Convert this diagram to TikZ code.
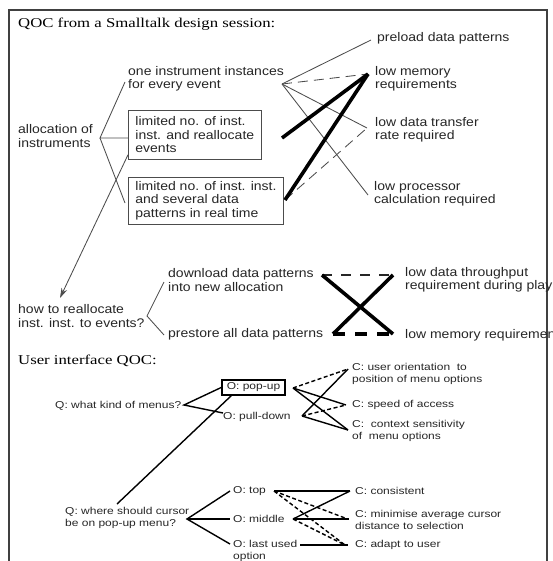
\documentclass[tikz,border=0pt]{standalone}
\usepackage{fontspec}
\setmainfont{Liberation Serif}
\newfontfamily\hvA[FakeStretch=1.12]{Liberation Sans}
\newfontfamily\hvB[FakeStretch=1.2]{Liberation Sans}
\newfontfamily\tmA[FakeStretch=1.24]{Liberation Serif}
\usetikzlibrary{arrows.meta}
\begin{document}
\begin{tikzpicture}[x=1pt,y=-1pt,
  lbl/.style={anchor=west,inner sep=0pt,align=left,font=\hvA\fontsize{12.5}{13.5}\selectfont,text=black!85},
  sml/.style={anchor=west,inner sep=0pt,align=left,font=\hvB\fontsize{10}{12}\selectfont,text=black!85},
  ttl/.style={anchor=west,inner sep=0pt,font=\tmA\fontsize{13.5}{15}\selectfont},
  boxed/.style={lbl,draw=black!70,line width=0.8pt,inner xsep=7pt,inner ysep=4pt,anchor=north west},
  popbox/.style={sml,draw=black,line width=1.6pt,anchor=center,align=center,minimum width=63pt,minimum height=15pt,inner xsep=2pt},
  thinln/.style={draw=black!70,line width=0.85pt},
  thickln/.style={draw=black,line width=3.6pt},
  dsh/.style={dash pattern=on 10pt off 6pt},
  uiln/.style={draw=black,line width=1.4pt},
  uidsh/.style={draw=black,line width=1.4pt,dash pattern=on 4pt off 2.5pt}
]
\useasboundingbox (0,0) rectangle (552,561);
\clip (0,0) rectangle (552,561);
\draw[line width=1.5pt,black!75] (9,10) rectangle (547,580);

% ---------- section 1
\node[ttl] (t1) at (18,24) {QOC from a Smalltalk design session:};
\node[lbl] (one) at (128,79) {one instrument instances\\for every event};
\node[lbl] (alloc) at (18,136) {allocation of\\instruments};
\node[boxed,minimum height=49pt] (box1) at (128,110) {limited no. of inst.\\inst. and reallocate\\events};
\node[boxed,minimum height=44pt] (box2) at (128,177) {limited no. of inst. inst.\\and several data\\patterns in real time};
\node[lbl] (pre) at (377,38) {preload data patterns};
\node[lbl] (lmem) at (375,79) {low memory\\requirements};
\node[lbl] (ldt) at (375,130) {low data transfer\\rate required};
\node[lbl] (lpc) at (374,194) {low processor\\calculation required};

\coordinate (aB) at (100,138);
\coordinate (oneL) at (125,82);
\coordinate (b2L) at (125,203);
\coordinate (oneR) at (282,84);
\coordinate (b1R) at (282,138);
\coordinate (b2R) at (285,200);
\coordinate (preL) at (371,40);
\coordinate (lmemL) at (368,74);
\coordinate (ldtL) at (367,128);
\coordinate (lpcL) at (368,195);

\draw[thinln] (oneL) -- (aB) -- (aB -| box1.west);
\draw[thinln] (aB) -- (b2L);
\draw[thinln] (oneR) -- (preL);
\draw[thinln] (oneR) -- (ldtL);
\draw[thinln] (oneR) -- (lpcL);
\draw[thinln,dsh] (oneR) -- (lmemL);
\draw[thinln,dsh] (b2R) -- (ldtL);
\draw[thickln] (b1R) -- (lmemL);
\draw[thickln] (b2R) -- (lmemL);

% ---------- section 2
\node[lbl] (how) at (18,316) {how to reallocate\\inst. inst. to events?};
\node[lbl] (dl) at (168,280) {download data patterns\\into new allocation};
\node[lbl] (ps) at (168,334) {prestore all data patterns};
\node[lbl] (lth) at (405,280) {low data throughput\\requirement during play};
\node[lbl] (lm2) at (405,335) {low memory requiremen};

\coordinate (hArr) at (60,298);
\draw[thinln,-{Stealth[length=10pt,width=6pt]}] ([yshift=5pt]box1.south west) -- (hArr);

\coordinate (hB) at (147,316);
\coordinate (dlL) at (164,282);
\coordinate (psL) at (164,335);
\coordinate (dlR) at (322,275);
\coordinate (psR) at (333,334);
\coordinate (lthL) at (393,275);
\coordinate (lm2L) at (393,334);
\draw[thinln] (dlL) -- (hB) -- (psL);
\draw[black!85,line width=1.4pt,dash pattern=on 10pt off 9pt] (dlR) -- (lthL);
\draw[black,line width=3.6pt,dash pattern=on 12pt off 10pt] (psR) -- (lm2L);
\draw[thickln] (dlR) -- (lm2L);
\draw[thickln] (psR) -- (lthL);

% ---------- section 3
\node[ttl] (t2) at (18,361) {User interface QOC:};
\node[sml] (qm) at (55,406) {Q: what kind of menus?};
\node[popbox] (pop) at (253.5,387.5) {O: pop-up};
\node[sml] (pd) at (223,417) {O: pull-down};
\node[sml] (uo) at (352,374) {C: user orientation\ \ to\\position of menu options};
\node[sml] (sp) at (352,405) {C: speed of access};
\node[sml] (cs) at (352,431) {C:\ \ context sensitivity\\of\ \ menu options};

\coordinate (qmR) at (184,405);
\coordinate (pdL) at (223,413);
\coordinate (popR) at (293,388);
\coordinate (pdR) at (302,416);
\coordinate (uoL) at (348,369);
\coordinate (spL) at (346,405);
\coordinate (csL) at (348,430);
\draw[uiln] (pop.west) -- (qmR) -- (pdL);
\draw[uidsh] (popR) -- (uoL);
\draw[uiln] (popR) -- (spL);
\draw[uiln] (popR) -- (csL);
\draw[uiln] (pdR) -- (uoL);
\draw[uidsh] (pdR) -- (spL);
\draw[uiln] (pdR) -- (csL);

\node[sml] (qc) at (65,518) {Q: where should cursor\\be on pop-up menu?};
\node[sml] (ot) at (233,491) {O: top};
\node[sml] (om) at (233,519) {O: middle};
\node[sml] (ol) at (233,551) {O: last used\\option};
\node[sml] (cc) at (355,491) {C: consistent};
\node[sml] (cm) at (355,520) {C: minimise average cursor\\distance to selection};
\node[sml] (ca) at (355,545) {C: adapt to user};

\coordinate (popB) at (232,395);
\coordinate (qcT) at (117,504);
\draw[uiln] (popB) -- (qcT);

\coordinate (qcB) at (187,519);
\coordinate (otL) at (230,491);
\coordinate (omL) at (230,519);
\coordinate (olL) at (230,544);
\coordinate (otR) at (274,491);
\coordinate (omR) at (293,519);
\coordinate (olR) at (300,545);
\coordinate (ccL) at (350,491);
\coordinate (cmL) at (349,519);
\coordinate (cmD) at (345,518);
\coordinate (caL) at (345,545);
\coordinate (caS) at (348,545);
\draw[uiln] (otL) -- (qcB) -- (olL);
\draw[uiln] (qcB) -- (omL);
\draw[uiln] (otR) -- (ccL);
\draw[uidsh] (otR) -- (cmD);
\draw[uidsh] (otR) -- (caL);
\draw[uiln] (omR) -- (ccL);
\draw[uiln] (omR) -- (cmL);
\draw[uidsh] (omR) -- (caL);
\draw[uiln] (olR) -- (caS);
\end{tikzpicture}
\end{document}
